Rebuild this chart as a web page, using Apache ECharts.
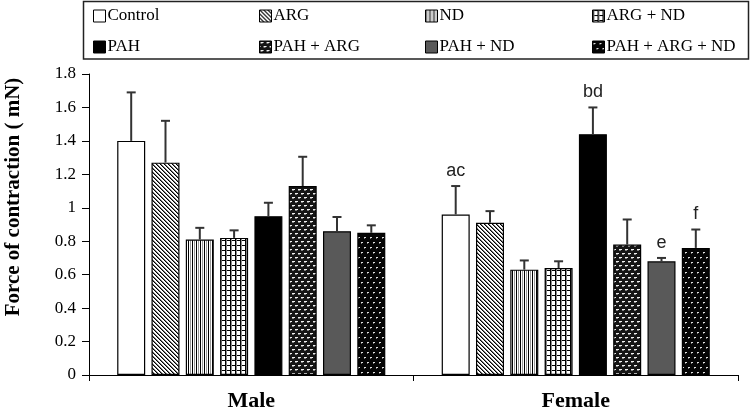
<!DOCTYPE html>
<html>
<head>
<meta charset="utf-8">
<script src="https://cdn.jsdelivr.net/npm/echarts@6/dist/echarts.min.js"></script>
<style>html,body{margin:0;padding:0;background:#fff}#c{width:751px;height:414px}</style>
</head>
<body>
<div id="c"></div>
<script>
// ---- data ----
const categories = ['Male', 'Female'];
const seriesNames = ['Control', 'ARG', 'ND', 'ARG + ND', 'PAH', 'PAH + ARG', 'PAH + ND', 'PAH + ARG + ND'];
const meanControl = [1.40, 0.96];
const meanARG = [1.27, 0.91];
const meanND = [0.81, 0.63];
const meanARGND = [0.82, 0.64];
const meanPAH = [0.95, 1.44];
const meanPAHARG = [1.13, 0.78];
const meanPAHND = [0.86, 0.68];
const meanPAHARGND = [0.85, 0.76];
const errControl = [0.29, 0.17];
const errARG = [0.25, 0.07];
const errND = [0.07, 0.055];
const errARGND = [0.045, 0.04];
const errPAH = [0.08, 0.16];
const errPAHARG = [0.175, 0.15];
const errPAHND = [0.085, 0.02];
const errPAHARGND = [0.045, 0.11];
// significance letters (male, female)
const sigControl = ['', 'ac'];
const sigPAH = ['', 'bd'];
const sigPAHND = ['', 'e'];
const sigPAHARGND = ['', 'f'];
const sigNone = ['', ''];
const yTicks = { min: 0, max: 1.8, interval: 0.2 };

const means = [meanControl, meanARG, meanND, meanARGND, meanPAH, meanPAHARG, meanPAHND, meanPAHARGND];
const errs = [errControl, errARG, errND, errARGND, errPAH, errPAHARG, errPAHND, errPAHARGND];
const sigs = [sigControl, sigNone, sigNone, sigNone, sigPAH, sigNone, sigPAHND, sigPAHARGND];

// ---- patterns ----
function tile(w, h, bg, draw) {
  const c = document.createElement('canvas');
  c.width = w; c.height = h;
  const g = c.getContext('2d');
  g.fillStyle = bg; g.fillRect(0, 0, w, h);
  draw(g);
  return { image: c, repeat: 'repeat' };
}
const fills = [
  '#ffffff',
  tile(4, 4, '#fff', g => { for (let i = 0; i < 4; i++) { g.fillStyle = '#000'; g.fillRect(i, i, 1, 1); g.fillStyle = '#777'; g.fillRect((i + 1) % 4, i, 1, 1); } }),
  tile(4, 4, '#fff', g => { g.fillStyle = '#000'; g.fillRect(0, 0, 1, 4); g.fillStyle = '#999'; g.fillRect(2, 0, 1, 4); }),
  tile(5, 5, '#fff', g => { g.fillStyle = '#000'; g.fillRect(0, 0, 5, 1); g.fillRect(0, 0, 1, 5); g.fillStyle = '#888'; g.fillRect(1, 0, 1, 5); }),
  '#000000',
  tile(6, 8, '#151515', g => { g.fillStyle = '#f0f0f0'; g.fillRect(1, 1, 3, 1); g.fillRect(4, 5, 2, 1); g.fillRect(0, 5, 1, 1); g.fillStyle = '#808080'; g.fillRect(1, 2, 2, 1); g.fillRect(4, 6, 2, 1); }),
  '#595959',
  tile(6, 10, '#050505', g => { g.fillStyle = '#e0e0e0'; g.fillRect(1, 2, 2, 1); g.fillRect(4, 7, 2, 1); g.fillStyle = '#777'; g.fillRect(1, 3, 1, 1); g.fillRect(4, 8, 1, 1); })
];

const BAR_W = 28, BAR_GAP = 0.225, PITCH = BAR_W * (1 + BAR_GAP);

const barSeries = seriesNames.map((n, i) => ({
  name: n,
  type: 'bar',
  data: means[i],
  barWidth: BAR_W,
  barGap: (BAR_GAP * 100) + '%',
  itemStyle: { color: fills[i], borderColor: '#000', borderWidth: 1.2 },
  emphasis: { disabled: true },
  z: 2
}));

const errData = [];
const errLabels = [];
means.forEach((m, s) => m.forEach((v, c) => { errData.push([c, s, v, errs[s][c]]); errLabels.push(sigs[s][c]); }));

const errSeries = {
  type: 'custom',
  name: 'err',
  data: errData,
  encode: { x: 0, y: 2 },
  z: 5,
  silent: true,
  renderItem: function (params, api) {
    const c = api.value(0), s = api.value(1), v = api.value(2), e = api.value(3);
    const b = api.coord([c, v]);
    const t = api.coord([c, v + e]);
    const x = b[0] + (s - 3.5) * PITCH;
    const children = [
      { type: 'line', shape: { x1: x, y1: b[1], x2: x, y2: t[1] }, style: { stroke: '#333', lineWidth: 2 } },
      { type: 'line', shape: { x1: x - 4.5, y1: t[1], x2: x + 4.5, y2: t[1] }, style: { stroke: '#333', lineWidth: 2 } }
    ];
    const lab = errLabels[params.dataIndex];
    if (lab) {
      children.push({ type: 'text', style: { text: lab, x: x, y: t[1] - 6, align: 'center', verticalAlign: 'bottom', font: '18px "Liberation Sans", Arial, sans-serif', fill: '#222' } });
    }
    return { type: 'group', children };
  }
};

const serif = '"Liberation Serif", "Times New Roman", serif';
const legendCols = [[0, 4], [1, 5], [2, 6], [3, 7]];
const legendLeft = [93, 259, 425, 592];
const legends = legendCols.map((col, k) => ({
  orient: 'vertical',
  left: legendLeft[k],
  top: 7,
  padding: 0,
  itemGap: 13,
  itemWidth: 12,
  itemHeight: 12,
  icon: 'rect',
  selectedMode: false,
  data: col.map(i => seriesNames[i]),
  itemStyle: { borderColor: '#000', borderWidth: 1 },
  textStyle: { fontFamily: serif, fontSize: 17, color: '#000', lineHeight: 18, padding: [0, 0, 0, -3] }
}));

const chart = echarts.init(document.getElementById('c'), null, { renderer: 'canvas' });
chart.setOption({
  animation: false,
  backgroundColor: '#fff',
  grid: { left: 89, right: 13, top: 74, bottom: 39 },
  legend: legends,
  xAxis: {
    type: 'category',
    data: categories,
    axisLine: { lineStyle: { color: '#000', width: 1 } },
    axisTick: { show: true, length: 6, lineStyle: { color: '#000' } },
    axisLabel: { margin: 15, fontFamily: serif, fontWeight: 'bold', fontSize: 22, color: '#000' }
  },
  yAxis: {
    type: 'value',
    min: yTicks.min, max: yTicks.max, interval: yTicks.interval,
    axisLine: { show: true, lineStyle: { color: '#000', width: 1 } },
    axisTick: { show: true, length: 7, lineStyle: { color: '#000' } },
    splitLine: { show: false },
    axisLabel: { margin: 13, fontFamily: serif, fontSize: 17, color: '#000', formatter: v => String(+v.toFixed(1)) }
  },
  graphic: [
    { type: 'rect', shape: { x: 83.5, y: 1.5, width: 665, height: 57.5 }, style: { fill: 'none', stroke: '#222', lineWidth: 1.5 }, z: 0 },
    { type: 'text', x: 14, y: 197, rotation: Math.PI / 2, style: { text: 'Force of contraction ( mN)', align: 'center', verticalAlign: 'middle', font: 'bold 21px ' + serif, fill: '#000' } }
  ],
  series: barSeries.concat([errSeries])
});
</script>
</body>
</html>
